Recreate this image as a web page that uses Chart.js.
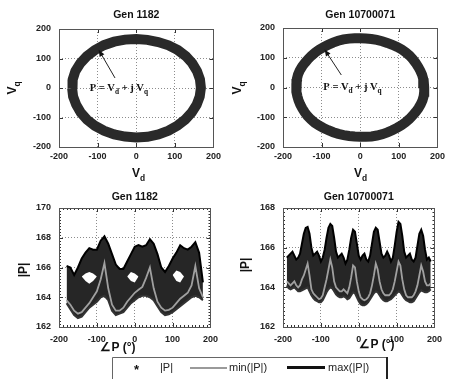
<!DOCTYPE html>
<html>
<head>
<meta charset="utf-8">
<script src="https://cdn.jsdelivr.net/npm/chart.js@4.4.1/dist/chart.umd.min.js"></script>
<style>
body{margin:0;background:#fff;width:449px;height:379px;overflow:hidden;position:relative;font-family:"Liberation Sans",Arial,sans-serif;}
canvas{position:absolute;}
</style>
</head>
<body>
<canvas id="gTL" width="225" height="185" style="left:0;top:0"></canvas>
<canvas id="gTR" width="224" height="185" style="left:225px;top:0"></canvas>
<canvas id="gBL" width="225" height="194" style="left:0;top:185px"></canvas>
<canvas id="gBR" width="224" height="194" style="left:225px;top:185px"></canvas>
<canvas id="legenda" width="278" height="22" style="left:111px;top:357px"></canvas>
<script>
// valori (angolo in gradi, modulo |P|)
var angLeft = [-180,-170,-160,-150,-140,-130,-120,-110,-100,-90,-80,-70,-60,-50,-40,-30,-20,-10,0,
  10,20,30,40,50,60,70,80,90,100,110,120,130,140,150,160,170,180];
var maxLeft = [166.1,166.0,165.5,166.0,166.6,167.0,167.3,167.2,167.2,167.8,168.1,167.6,166.9,166.2,165.9,165.9,166.4,166.9,167.4,
  167.5,167.4,167.5,167.9,167.6,166.9,166.0,165.7,166.1,166.6,167.0,167.5,167.3,167.2,167.4,167.7,167.0,165.0];
var minLeft = [163.8,163.5,163.1,162.9,163.0,163.3,163.6,164.0,164.4,165.2,166.3,164.6,163.5,163.1,163.1,163.3,163.7,164.0,164.3,
  164.5,164.7,165.3,166.0,164.6,163.7,163.3,163.1,163.15,163.3,163.6,163.9,164.1,164.3,164.8,166.1,164.6,164.0];
// bordo inferiore della nuvola di campioni |P|
var lowLeft = [163.6,163.2,162.8,162.6,162.7,163.0,163.3,163.5,163.7,164.0,164.1,163.8,163.1,162.8,162.9,163.0,163.3,163.6,163.8,
  164.0,164.1,164.1,164.0,163.8,163.4,163.0,162.8,162.85,163.0,163.2,163.4,163.6,163.8,164.0,164.1,164.0,163.8];
// zone vuote dentro la nuvola
var gapTopLeft = [null,null,null,null,165.4,165.6,165.7,165.6,165.4,null,null,null,null,null,null,null,165.4,165.7,165.6,
  165.4,null,null,null,null,null,null,null,null,165.5,165.8,165.7,165.4,null,null,null,null,null];
var gapBotLeft = [null,null,null,null,165.4,165.1,164.9,165.1,165.4,null,null,null,null,null,null,null,165.4,165.1,165.0,
  165.4,null,null,null,null,null,null,null,null,165.5,165.1,165.0,165.4,null,null,null,null,null];

var angRight = [-190,-185,-180,-175,-170,-165,-160,-155,-150,-145,-140,-135,-130,-125,-120,-115,-110,-105,-100,-95,
  -90,-85,-80,-75,-70,-65,-60,-55,-50,-45,-40,-35,-30,-25,-20,-15,-10,-5,0,
  5,10,15,20,25,30,35,40,45,50,55,60,65,70,75,80,85,90,95,
  100,105,110,115,120,125,130,135,140,145,150,155,160,165,170,175,180,185,190];
var maxRight = [165.5,165.6,165.7,165.8,165.6,165.4,165.5,165.7,166.2,166.7,167.0,167.05,166.7,166.0,165.6,165.7,165.8,165.6,165.3,165.5,
  165.9,166.5,167.0,167.2,167.1,166.5,165.8,165.5,165.6,165.7,165.5,165.2,165.4,165.9,166.5,166.9,166.8,166.2,165.6,
  165.4,165.6,165.7,165.4,165.3,165.6,166.2,166.8,167.0,166.9,166.3,165.7,165.5,165.6,165.8,165.6,165.3,165.5,166.1,
  166.8,167.3,167.2,166.6,165.8,165.5,165.6,165.7,165.4,165.3,165.5,166.1,166.7,166.9,166.6,165.9,165.4,165.5,165.3];
var minRight = [164.3,164.2,164.1,164.2,164.3,164.1,164.0,164.1,164.4,164.6,164.9,165.2,164.6,163.9,163.7,163.6,163.5,163.4,163.45,163.6,
  164.0,164.4,164.9,165.4,165.0,164.3,164.0,163.9,163.8,163.8,163.9,163.8,163.7,164.0,164.5,165.1,165.0,164.3,163.8,
  163.5,163.4,163.35,163.4,163.5,163.7,164.1,164.6,165.2,164.9,164.3,163.9,163.7,163.6,163.6,163.6,163.7,163.9,164.3,
  164.8,165.3,165.1,164.4,163.9,163.6,163.5,163.5,163.5,163.6,163.8,164.1,164.6,165.1,164.8,164.3,164.1,164.1,164.2];
var lowRight = [164.1,163.95,163.9,163.95,164.0,163.9,163.8,163.8,163.85,163.9,163.95,164.0,163.8,163.6,163.45,163.35,163.3,163.25,163.25,163.35,
  163.55,163.75,163.9,164.0,163.95,163.8,163.65,163.55,163.5,163.5,163.55,163.5,163.4,163.45,163.6,163.75,163.7,163.5,163.3,
  163.15,163.1,163.1,163.15,163.25,163.4,163.55,163.7,163.8,163.75,163.6,163.45,163.35,163.3,163.3,163.35,163.4,163.5,163.6,
  163.7,163.8,163.75,163.6,163.45,163.35,163.3,163.25,163.25,163.3,163.45,163.6,163.75,163.85,163.8,163.75,163.75,163.8,163.9];

var tickV = [-200,-100,0,100,200];
var tickLeftP = [162,164,166,168,170];
var tickRightP = [162,164,166,168];

var titoli = ["Gen 1182", "Gen 10700071"];
var nota = [["P = V",0],["d",1],[" + j V",0],["q",1]];
var vociLegenda = ["|P|", "min(|P|)", "max(|P|)"];

var fontTick = {family: "'Liberation Sans', Arial, sans-serif", size: 9, weight: 'bold'};
var fam = "'Liberation Sans', Arial, sans-serif";

function punti(xs, ys){
  var out = [];
  for (var i = 0; i < xs.length; i++) {
    out.push({x: xs[i], y: ys[i]});
  }
  return out;
}

// P = |P| e^(j angolo) -> (Vd, Vq)
function anello(ang, mod){
  var out = [];
  for (var i = 0; i < ang.length; i++) {
    var a = ang[i] * Math.PI / 180;
    out.push({x: mod[i] * Math.cos(a), y: mod[i] * Math.sin(a)});
  }
  return out;
}

function scrivi(ctx, pezzi, x, y, size, family, weight, ruota){
  ctx.save();
  ctx.translate(x, y);
  if (ruota) ctx.rotate(-Math.PI / 2);
  var w = 0;
  pezzi.forEach(function(p){
    ctx.font = weight + ' ' + (p[1] ? size * 0.7 : size) + 'px ' + family;
    w += ctx.measureText(p[0]).width;
  });
  var cx = -w / 2;
  ctx.textAlign = 'left';
  ctx.textBaseline = 'middle';
  ctx.fillStyle = '#111';
  pezzi.forEach(function(p){
    ctx.font = weight + ' ' + (p[1] ? size * 0.7 : size) + 'px ' + family;
    ctx.fillText(p[0], cx, p[1] ? size * 0.35 : 0);
    cx += ctx.measureText(p[0]).width;
  });
  ctx.restore();
}

var cornice = {
  id: 'cornice',
  afterDraw: function(chart, args, o){
    var ctx = chart.ctx, a = chart.chartArea;
    var xs = chart.scales.x, ys = chart.scales.y;
    ctx.save();
    ctx.strokeStyle = '#333';
    ctx.lineWidth = 1;
    ctx.beginPath();
    if (o.minori) {
      for (var v = xs.min; v <= xs.max; v += 10) {
        var px = Math.round(xs.getPixelForValue(v)) + 0.5;
        ctx.moveTo(px, a.bottom); ctx.lineTo(px, a.bottom - 2);
        ctx.moveTo(px, a.top); ctx.lineTo(px, a.top + 2);
      }
      for (var k = 0; k <= (ys.max - ys.min) * 5; k++) {
        var py = Math.round(ys.getPixelForValue(ys.min + k / 5)) + 0.5;
        ctx.moveTo(a.left, py); ctx.lineTo(a.left + 2, py);
        ctx.moveTo(a.right, py); ctx.lineTo(a.right - 2, py);
      }
    }
    xs.ticks.forEach(function(t){
      var px = Math.round(xs.getPixelForValue(t.value)) + 0.5;
      ctx.moveTo(px, a.bottom); ctx.lineTo(px, a.bottom - 4);
      ctx.moveTo(px, a.top); ctx.lineTo(px, a.top + 4);
    });
    ys.ticks.forEach(function(t){
      var py = Math.round(ys.getPixelForValue(t.value)) + 0.5;
      ctx.moveTo(a.left, py); ctx.lineTo(a.left + 4, py);
      ctx.moveTo(a.right, py); ctx.lineTo(a.right - 4, py);
    });
    ctx.stroke();
    ctx.strokeStyle = '#555';
    ctx.strokeRect(Math.round(a.left) + 0.5, Math.round(a.top) + 0.5, Math.round(a.right - a.left), Math.round(a.bottom - a.top));

    // freccia e formula
    if (o.freccia) {
      var f = o.freccia;
      var x1 = xs.getPixelForValue(f[0]), y1 = ys.getPixelForValue(f[1]);
      var x2 = xs.getPixelForValue(f[2]), y2 = ys.getPixelForValue(f[3]);
      var ang = Math.atan2(y2 - y1, x2 - x1);
      ctx.strokeStyle = '#222';
      ctx.beginPath();
      ctx.moveTo(x1, y1); ctx.lineTo(x2, y2);
      ctx.stroke();
      ctx.fillStyle = '#111';
      ctx.beginPath();
      ctx.moveTo(x2, y2);
      ctx.lineTo(x2 - 7 * Math.cos(ang - 0.4), y2 - 7 * Math.sin(ang - 0.4));
      ctx.lineTo(x2 - 7 * Math.cos(ang + 0.4), y2 - 7 * Math.sin(ang + 0.4));
      ctx.closePath();
      ctx.fill();
      scrivi(ctx, nota, xs.getPixelForValue(o.testo[0]), ys.getPixelForValue(o.testo[1]), 10.5, "'Liberation Serif', serif", 'bold', false);
    }
    ctx.restore();

    scrivi(ctx, [[o.titolo, 0]], (a.left + a.right) / 2, o.titoloY, 10.5, fam, 'bold', false);
    scrivi(ctx, o.xLab, o.xPos[0], o.xPos[1], 12, fam, 'bold', false);
    scrivi(ctx, o.yLab, o.yPos[0], o.yPos[1], 12, fam, 'bold', true);
  }
};

function assi(xT, yT, area, ch, padX){
  return {
    x: {
      type: 'linear', min: xT[0], max: xT[xT.length - 1],
      afterBuildTicks: function(s){ s.ticks = xT.map(function(v){ return {value: v}; }); },
      afterFit: function(s){ s.height = ch - area.bottom; },
      grid: {color: '#8c8c8c', drawTicks: false},
      border: {display: false, dash: [1, 2]},
      ticks: {font: fontTick, color: '#222', padding: padX, maxRotation: 0, autoSkip: false}
    },
    y: {
      type: 'linear', min: yT[0], max: yT[yT.length - 1],
      afterBuildTicks: function(s){ s.ticks = yT.map(function(v){ return {value: v}; }); },
      afterFit: function(s){ s.width = area.left; },
      grid: {color: '#8c8c8c', drawTicks: false},
      border: {display: false, dash: [1, 2]},
      ticks: {font: fontTick, color: '#222', padding: 8, autoSkip: false}
    }
  };
}

function drawAnello(id, area, cw, ch, ang, mod, lab, freccia, testo){
  var ctx = document.getElementById(id).getContext('2d');
  new Chart(ctx, {
    type: 'scatter',
    data: {
      datasets: [{
        label: '|P|',
        data: anello(ang, mod),
        showLine: true,
        borderColor: '#2a2a2a',
        borderWidth: 10,
        pointRadius: 0,
        tension: 0
      }]
    },
    options: {
      responsive: false,
      animation: false,
      events: [],
      layout: {padding: {left: 0, top: area.top, right: cw - area.right, bottom: 0}},
      scales: assi(tickV, tickV, area, ch, 4),
      plugins: {
        legend: {display: false},
        tooltip: {enabled: false},
        cornice: {titolo: lab, titoloY: 15, xLab: [["V",0],["d",1]], xPos: [(area.left + area.right) / 2, 174],
          yLab: [["V",0],["q",1]], yPos: [13, 88], freccia: freccia, testo: testo, minori: false}
      }
    },
    plugins: [cornice]
  });
}

function drawModulo(id, area, cw, ch, ang, maxP, minP, lowP, gapTop, gapBot, yT, lab, xPos, yPos){
  var ctx = document.getElementById(id).getContext('2d');
  var ds = [
    {label: 'max(|P|)', data: punti(ang, maxP), borderColor: '#000000', borderWidth: 2, fill: false},
    {label: 'min(|P|)', data: punti(ang, minP), borderColor: '#a0a0a0', borderWidth: 1.8, fill: false},
    {label: 'vuoto', data: punti(ang, gapTop || []), borderWidth: 0, fill: {target: 4, above: '#ffffff', below: '#ffffff'}},
    {label: '|P|', data: punti(ang, lowP), borderColor: '#333333', borderWidth: 2, fill: {target: 0, above: '#262626', below: '#262626'}},
    {label: 'vuoto2', data: punti(ang, gapBot || []), borderWidth: 0, fill: false}
  ];
  ds.forEach(function(d){ d.pointRadius = 0; d.tension = 0; d.spanGaps = false; });
  new Chart(ctx, {
    type: 'line',
    data: {datasets: ds},
    options: {
      responsive: false,
      animation: false,
      events: [],
      layout: {padding: {left: 0, top: area.top, right: cw - area.right, bottom: 0}},
      scales: assi(tickV, yT, area, ch, 7),
      plugins: {
        legend: {display: false},
        tooltip: {enabled: false},
        filler: {propagate: false},
        cornice: {titolo: lab, titoloY: 12, xLab: [["\u2220P (\u00b0)",0]], xPos: xPos,
          yLab: [["|P|",0]], yPos: yPos, minori: true}
      }
    },
    plugins: [cornice]
  });
}

// legenda comune sotto i due grafici in basso
function drawLegenda(){
  var ctx = document.getElementById('legenda').getContext('2d');
  ctx.fillStyle = '#fff';
  ctx.fillRect(0, 0, 278, 22);
  ctx.strokeStyle = '#666';
  ctx.lineWidth = 1;
  ctx.beginPath();
  ctx.moveTo(1.5, 22); ctx.lineTo(1.5, 0.5); ctx.lineTo(275, 0.5);
  ctx.stroke();
  ctx.strokeStyle = '#222';
  ctx.lineWidth = 2;
  ctx.beginPath();
  ctx.moveTo(276, 0); ctx.lineTo(276, 22);
  ctx.stroke();

  ctx.fillStyle = '#111';
  ctx.font = "bold 13px " + fam;
  ctx.textBaseline = 'middle';
  ctx.fillText('*', 23, 13);
  ctx.fillStyle = '#222';
  ctx.font = "11px " + fam;
  ctx.fillText(vociLegenda[0], 49, 11);
  ctx.fillStyle = '#9a9a9a';
  ctx.fillRect(79, 10, 37, 2);
  ctx.fillStyle = '#222';
  ctx.fillText(vociLegenda[1], 118, 11);
  ctx.fillStyle = '#111';
  ctx.fillRect(176, 9, 38, 3);
  ctx.fillStyle = '#222';
  ctx.fillText(vociLegenda[2], 217, 11);
}

function init(){
  drawAnello('gTL', {left: 59, right: 218, top: 29, bottom: 147}, 225, 185, angLeft, maxLeft, titoli[0], [-55, 34, -97, 129], [-45, 0]);
  drawAnello('gTR', {left: 58, right: 213, top: 28, bottom: 147}, 224, 185, angRight, maxRight, titoli[1], [-49, 42, -92, 127], [-20, 0]);
  drawModulo('gBL', {left: 59, right: 218, top: 23, bottom: 142}, 225, 194, angLeft, maxLeft, minLeft, lowLeft, gapTopLeft, gapBotLeft, tickLeftP, titoli[0], [118, 163], [24, 85]);
  drawModulo('gBR', {left: 58, right: 215, top: 23, bottom: 142}, 224, 194, angRight, maxRight, minRight, lowRight, null, null, tickRightP, titoli[1], [152, 160], [21, 80]);
  drawLegenda();
}

init();
</script>
</body>
</html>
